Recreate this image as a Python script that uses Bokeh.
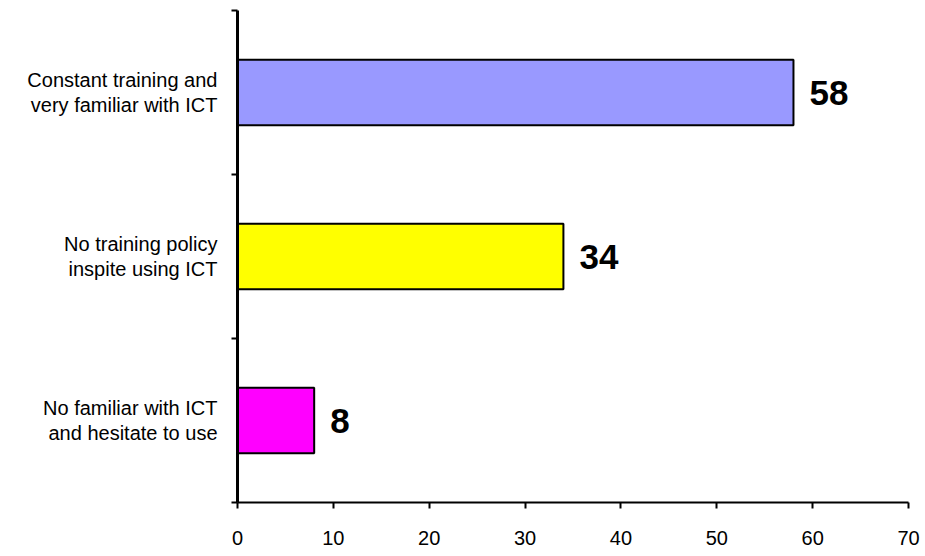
from bokeh.plotting import figure
from bokeh.models import ColumnDataSource, Range1d, FixedTicker, LinearAxis
from bokeh.core.properties import value
from bokeh.embed import file_html
from bokeh.resources import INLINE

# Survey responses, listed bottom to top
categories = [
    "No familiar with ICT\nand hesitate to use",
    "No training policy\ninspite using ICT",
    "Constant training and\nvery familiar with ICT",
]
percentages = [8, 34, 58]
bar_colors = ["#FF00FF", "#FFFF00", "#9999FF"]
x_ticks = [0, 10, 20, 30, 40, 50, 60, 70]

FONT = "Liberation Sans"

ypos = [i + 0.5 for i in range(len(categories))]
src = ColumnDataSource(dict(
    y=ypos,
    val=percentages,
    color=bar_colors,
    txt=[str(v) for v in percentages],
))

p = figure(
    width=925, height=556,
    output_backend="svg", toolbar_location=None,
    x_range=Range1d(x_ticks[0], x_ticks[-1]),
    y_range=Range1d(0, len(categories)),
    min_border_left=237, min_border_right=17,
    min_border_top=10, min_border_bottom=54,
)
p.outline_line_color = None
p.xgrid.grid_line_color = None
p.ygrid.grid_line_color = None
p.background_fill_color = "white"
p.border_fill_color = "white"

p.hbar(y="y", left=0, right="val", height=0.4, source=src,
       fill_color="color", line_color="black", line_width=2)

p.text(x="val", y="y", text="txt", source=src,
       x_offset=16, y_offset=0,
       text_font=value(FONT), text_font_style="bold",
       text_font_size="35px", text_color="black",
       text_align="left", text_baseline="middle")

# x axis
xa = p.xaxis[0]
xa.ticker = FixedTicker(ticks=x_ticks)
xa.axis_line_width = 2
xa.axis_line_color = "black"
xa.major_tick_line_width = 2
xa.major_tick_line_color = "black"
xa.major_tick_out = 6
xa.major_tick_in = 0
xa.minor_tick_line_color = None
xa.major_label_text_font = FONT
xa.major_label_text_font_size = "20px"
xa.major_label_text_color = "black"
xa.major_label_standoff = 22

# y axis: tick marks on category boundaries, no labels
ya = p.yaxis[0]
ya.ticker = FixedTicker(ticks=list(range(len(categories) + 1)))
ya.axis_line_width = 3
ya.axis_line_color = "black"
ya.major_tick_line_width = 2
ya.major_tick_line_color = "black"
ya.major_tick_out = 6
ya.major_tick_in = 0
ya.minor_tick_line_color = None
ya.major_label_text_font_size = "0px"
ya.major_label_text_color = None
ya.major_label_standoff = 0

# second left axis carrying the category names at band centres
names = LinearAxis(
    ticker=FixedTicker(ticks=ypos),
    major_label_overrides={yc: name for yc, name in zip(ypos, categories)},
    axis_line_color=None,
    major_tick_line_color=None,
    minor_tick_line_color=None,
    major_label_text_font=FONT,
    major_label_text_font_size="20px",
    major_label_text_color="black",
    major_label_text_line_height=1.1,
    major_label_standoff=8,
)
p.add_layout(names, "left")

open("out.html", "w").write(file_html(p, INLINE))
